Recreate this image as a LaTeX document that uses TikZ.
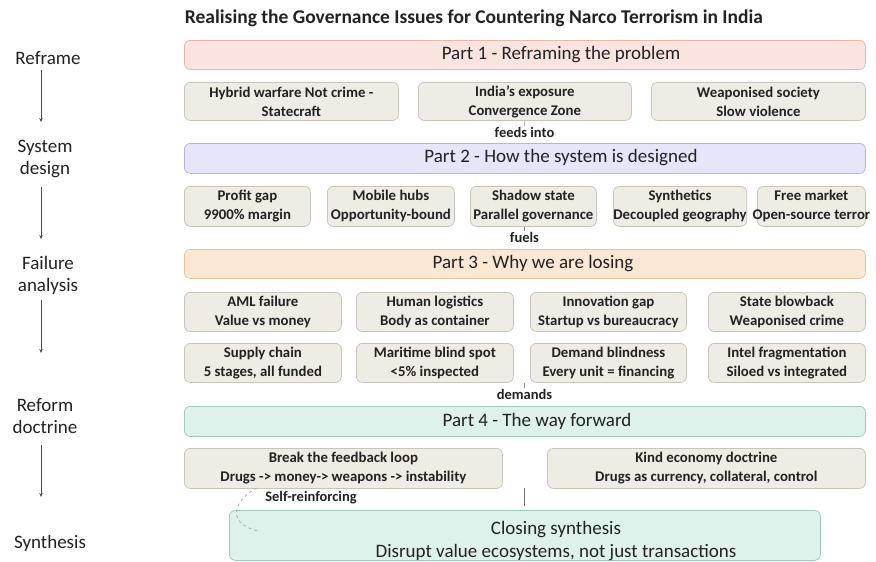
\documentclass[tikz,border=0pt]{standalone}
\usepackage{fontspec}
\setmainfont{Carlito}
\usetikzlibrary{arrows.meta}
\definecolor{txt}{HTML}{222222}
\definecolor{p1f}{HTML}{FBE4DF}\definecolor{p1d}{HTML}{E5B7AE}
\definecolor{p2f}{HTML}{E7E5FA}\definecolor{p2d}{HTML}{B7B2E6}
\definecolor{p3f}{HTML}{FBE8D4}\definecolor{p3d}{HTML}{E3C39C}
\definecolor{p4f}{HTML}{DEF2EB}\definecolor{p4d}{HTML}{9CCDBA}
\definecolor{sbf}{HTML}{EFECE6}\definecolor{sbd}{HTML}{C9C4BB}
\tikzset{
  bar/.style={draw, rounded corners=6pt, line width=0.8pt, anchor=north west, minimum width=681pt, inner sep=0pt},
  bartext/.style={text=txt, font=\fontsize{19}{22}\selectfont, inner sep=1pt},
  sbox/.style={draw=sbd, fill=sbf, rounded corners=6pt, line width=0.8pt, anchor=north west, inner sep=0pt, align=center, text=txt, font=\bfseries\fontsize{14.8}{19}\selectfont},
  elabel/.style={text=txt, font=\bfseries\fontsize{14.5}{16}\selectfont, inner sep=1pt},
  sidelabel/.style={text=txt, font=\fontsize{19}{22}\selectfont, align=center, inner sep=0pt},
  sidearrow/.style={draw=black!70, line width=0.6pt, -{Stealth[length=4pt,width=3.5pt]}},
  tick/.style={draw=black!45, line width=0.6pt},
}
\begin{document}
\begin{tikzpicture}[x=1pt,y=-1pt]
\useasboundingbox[fill=white] (0,0) rectangle (876,562);
% title
\node[text=txt, font=\bfseries\fontsize{19.5}{22}\selectfont] (title) at (474,18) {Realising the Governance Issues for Countering Narco Terrorism in India};
% side labels
\node[sidelabel] (l1) at (48,58) {Reframe};
\node[sidelabel] (l2) at (45,159) {System\\design};
\node[sidelabel] (l3) at (48,275) {Failure\\analysis};
\node[sidelabel] (l4) at (45,416) {Reform\\doctrine};
\node[sidelabel] (l5) at (50,543) {Synthesis};
\coordinate (a1s) at (41,70);  \coordinate (a1e) at (41,122);
\coordinate (a2s) at (41,187); \coordinate (a2e) at (41,239);
\coordinate (a3s) at (41,300); \coordinate (a3e) at (41,353);
\coordinate (a4s) at (41,445); \coordinate (a4e) at (41,497);
\draw[sidearrow] (a1s) -- (a1e);
\draw[sidearrow] (a2s) -- (a2e);
\draw[sidearrow] (a3s) -- (a3e);
\draw[sidearrow] (a4s) -- (a4e);
% Part 1
\node[bar, draw=p1d, fill=p1f, minimum height=29pt] (p1) at (184,40) {};
\node[bartext] (p1t) at (561,55) {Part 1 - Reframing the problem};
\node[sbox, minimum width=214pt, minimum height=38pt] (b11) at (184,82) {Hybrid warfare Not crime -\\Statecraft};
\node[sbox, minimum width=213pt, minimum height=38pt] (b12) at (418,82) {India's exposure\\Convergence Zone};
\node[sbox, minimum width=214pt, minimum height=38pt] (b13) at (651,82) {Weaponised society\\Slow violence};
\node[elabel] (feeds) at (524.5,132) {feeds into};
\draw[tick] (b12.south) -- (feeds.north);
% Part 2
\node[bar, draw=p2d, fill=p2f, minimum height=30pt] (p2) at (184,143) {};
\node[bartext] (p2t) at (561,158) {Part 2 - How the system is designed};
\node[sbox, minimum width=126pt, minimum height=40pt] (b21) at (184,186) {Profit gap\\9900\% margin};
\node[sbox, minimum width=127pt, minimum height=40pt] (b22) at (327,186) {Mobile hubs\\Opportunity-bound};
\node[sbox, minimum width=126pt, minimum height=40pt] (b23) at (470,186) {Shadow state\\Parallel governance};
\node[sbox, minimum width=127pt, minimum height=40pt] (b24) at (613,186) {Synthetics\\Decoupled geography};
\node[sbox, minimum width=108pt, minimum height=40pt] (b25) at (757,186) {Free market\\\makebox[100pt][c]{Open-source terror}};
\node[elabel] (fuels) at (524.5,237) {fuels};
\draw[tick] (fuels.north) -- (fuels.north |- b23.south);
% Part 3
\node[bar, draw=p3d, fill=p3f, minimum height=29pt] (p3) at (184,249) {};
\node[bartext] (p3t) at (533,264) {Part 3 - Why we are losing};
\node[sbox, minimum width=157pt, minimum height=39pt] (b31) at (184,292) {AML failure\\Value vs money};
\node[sbox, minimum width=157pt, minimum height=39pt] (b32) at (356,292) {Human logistics\\Body as container};
\node[sbox, minimum width=156pt, minimum height=39pt] (b33) at (530,292) {Innovation gap\\Startup vs bureaucracy};
\node[sbox, minimum width=157pt, minimum height=39pt] (b34) at (708,292) {State blowback\\Weaponised crime};
\node[sbox, minimum width=157pt, minimum height=39pt] (b35) at (184,343) {Supply chain\\5 stages, all funded};
\node[sbox, minimum width=157pt, minimum height=39pt] (b36) at (356,343) {Maritime blind spot\\<5\% inspected};
\node[sbox, minimum width=156pt, minimum height=39pt] (b37) at (530,343) {Demand blindness\\Every unit = financing};
\node[sbox, minimum width=157pt, minimum height=39pt] (b38) at (708,343) {Intel fragmentation\\Siloed vs integrated};
\node[elabel] (demands) at (524.5,394) {demands};
\draw[tick] (demands.north) -- (demands.north |- b36.south);
% Part 4
\node[bar, draw=p4d, fill=p4f, minimum height=30pt] (p4) at (184,406) {};
\node[bartext] (p4t) at (537,421) {Part 4 - The way forward};
\node[sbox, minimum width=318pt, minimum height=40pt] (b41) at (184,448) {Break the feedback loop\\Drugs -> money-> weapons -> instability};
\node[sbox, minimum width=318pt, minimum height=40pt] (b42) at (547,448) {Kind economy doctrine\\Drugs as currency, collateral, control};
\node[elabel] (selfr) at (311,498) {Self-reinforcing};
% Synthesis
\node[draw=p4d, fill=p4f, rounded corners=6pt, line width=0.8pt, anchor=north west, minimum width=591pt, minimum height=50pt, inner sep=0pt] (syn) at (229,510) {};
\node[text=txt, font=\fontsize{19}{23}\selectfont, align=center, inner sep=0pt] (synt) at (556,541) {Closing synthesis\\Disrupt value ecosystems, not just transactions};
\coordinate (e4) at (524.5,488);
\draw[draw=black!55, line width=1pt, shorten >=4pt] (e4) -- (e4 |- syn.north);
\coordinate (loopA) at (257,488);
\coordinate (loopB) at (258,531);
\draw[draw=black!35, line width=0.7pt, dashed] (loopA) .. controls (238,497) and (222,522) .. (loopB);
\end{tikzpicture}
\end{document}
